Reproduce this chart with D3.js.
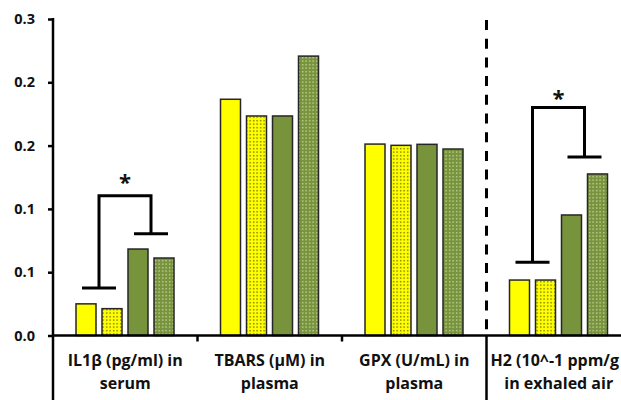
<!DOCTYPE html>
<html>
<head>
<meta charset="utf-8">
<script src="https://cdn.jsdelivr.net/npm/d3@7"></script>
<style>
  html, body { margin: 0; padding: 0; background: #fff; }
  svg { display: block; }
  text { font-family: "Open Sans", "DejaVu Sans", sans-serif; font-weight: bold; fill: #111; }
</style>
</head>
<body>
<svg id="chart" width="621" height="400"></svg>
<script>
// ---- data ----
const categories = [
  ["IL1β (pg/ml) in", "serum"],
  ["TBARS (µM) in", "plasma"],
  ["GPX (U/mL) in", "plasma"],
  ["H2 (10^-1 ppm/g", "in exhaled air"]
];
const seriesNames = ["s1", "s2", "s3", "s4"];
const s1 = [0.025, 0.1866, 0.1512, 0.0438];
const s2 = [0.0212, 0.1734, 0.1502, 0.0438];
const s3 = [0.0683, 0.1734, 0.1510, 0.0952];
const s4 = [0.0612, 0.2207, 0.1473, 0.1276];
const seriesValues = [s1, s2, s3, s4];
const yTickValues = [0, 0.05, 0.10, 0.15, 0.20, 0.25];
const yTickLabels = ["0.0", "0.1", "0.1", "0.2", "0.2", "0.3"];
// significance brackets: category index, left leg end, right leg end, top, in data units
const brackets = [
  { cat: 0, left: 0.0375, right: 0.0804, top: 0.1104, star: 0.1235 },
  { cat: 3, left: 0.0578, right: 0.1410, top: 0.1800, star: 0.1900 }
];

// ---- layout ----
const W = 621, H = 400;
const x0 = 53, band = 144.5, baseY = 335.5, topY = 19;
const svg = d3.select("#chart");

const catKeys = categories.map((c, i) => i);
const x = d3.scaleBand().domain(catKeys).range([x0, x0 + band * categories.length]).padding(0);
const xs = d3.scaleBand().domain(seriesNames).range([23, 121]).paddingInner(6 / 26).paddingOuter(0);
const y = d3.scaleLinear().domain([0, 0.25]).range([baseY, topY]);

// patterns
const defs = svg.append("defs");
const p1 = defs.append("pattern").attr("id", "dotY").attr("width", 3.5).attr("height", 3.5)
  .attr("patternUnits", "userSpaceOnUse");
p1.append("rect").attr("width", 3.5).attr("height", 3.5).attr("fill", "#ffff00");
p1.append("rect").attr("x", 1).attr("y", 1).attr("width", 1.3).attr("height", 1.3).attr("fill", "#5a5a10");
const p2 = defs.append("pattern").attr("id", "dotG").attr("width", 3.5).attr("height", 3.5)
  .attr("patternUnits", "userSpaceOnUse");
p2.append("rect").attr("width", 3.5).attr("height", 3.5).attr("fill", "#77933c");
p2.append("rect").attr("x", 1).attr("y", 1).attr("width", 1.3).attr("height", 1.3).attr("fill", "#d4e0b0");

const fills = { s1: "#ffff00", s2: "url(#dotY)", s3: "#77933c", s4: "url(#dotG)" };

// bars
const rows = [];
seriesNames.forEach((s, si) => {
  seriesValues[si].forEach((v, ci) => rows.push({ s, ci, v }));
});
svg.append("g").selectAll("rect").data(rows).join("rect")
  .attr("x", d => x(d.ci) + xs(d.s))
  .attr("y", d => y(d.v))
  .attr("width", xs.bandwidth())
  .attr("height", d => baseY - y(d.v))
  .attr("fill", d => fills[d.s])
  .attr("stroke", "#262626")
  .attr("stroke-width", 1.5);

// y axis
const yAxis = d3.axisLeft(y).tickValues(yTickValues)
  .tickFormat((d, i) => yTickLabels[i]).tickSize(5).tickPadding(13);
const ga = svg.append("g").attr("transform", `translate(${x0},0)`).call(yAxis);
ga.select(".domain").remove();
ga.selectAll(".tick line").attr("stroke", "#000").attr("stroke-width", 2.5);
ga.selectAll(".tick text").attr("font-size", 14.5).attr("font-family", "Open Sans").attr("font-weight", "bold").attr("fill", "#111");
svg.append("line").attr("x1", x0).attr("x2", x0).attr("y1", topY - 1).attr("y2", H)
  .attr("stroke", "#000").attr("stroke-width", 2.5);

// x axis line + ticks
svg.append("line").attr("x1", x0).attr("x2", W).attr("y1", baseY).attr("y2", baseY)
  .attr("stroke", "#000").attr("stroke-width", 2.5);
svg.append("g").selectAll("line").data([1, 2]).join("line")
  .attr("x1", d => x(d)).attr("x2", d => x(d))
  .attr("y1", baseY).attr("y2", baseY + 6)
  .attr("stroke", "#000").attr("stroke-width", 2.5);

// separator before last category
const sepX = x(3);
svg.append("line").attr("x1", sepX).attr("x2", sepX).attr("y1", 20).attr("y2", baseY)
  .attr("stroke", "#000").attr("stroke-width", 3).attr("stroke-dasharray", "10,8.7");
svg.append("line").attr("x1", sepX).attr("x2", sepX).attr("y1", baseY).attr("y2", H)
  .attr("stroke", "#000").attr("stroke-width", 2.5);

// category labels (each line kept inside the picture)
categories.forEach((lines, i) => {
  const cx = x(i) + x.bandwidth() / 2;
  lines.forEach((t, k) => {
    const tx = svg.append("text")
      .attr("text-anchor", "middle")
      .attr("font-size", 16)
      .attr("x", cx)
      .attr("y", 366 + k * 22.5)
      .text(t);
    const w = tx.node().getComputedTextLength();
    if (cx + w / 2 > W - 2) tx.attr("x", W - 2 - w / 2);
  });
});

// brackets
const gb = svg.append("g").attr("stroke", "#000").attr("stroke-width", 3).attr("fill", "none");
brackets.forEach(b => {
  const cx = x(b.cat);
  const lx = cx + (xs("s1") + xs("s2") + xs.bandwidth()) / 2;
  const rx = cx + (xs("s3") + xs("s4") + xs.bandwidth()) / 2;
  gb.append("path").attr("d",
    `M${lx},${y(b.left)}V${y(b.top)}H${rx}V${y(b.right)}`);
  gb.append("line").attr("x1", lx - 17).attr("x2", lx + 17).attr("y1", y(b.left)).attr("y2", y(b.left));
  gb.append("line").attr("x1", rx - 17).attr("x2", rx + 17).attr("y1", y(b.right)).attr("y2", y(b.right));
  svg.append("text").attr("x", (lx + rx) / 2).attr("y", y(b.star) + 11)
    .attr("text-anchor", "middle").attr("font-size", 22).text("*");
});
</script>
</body>
</html>
